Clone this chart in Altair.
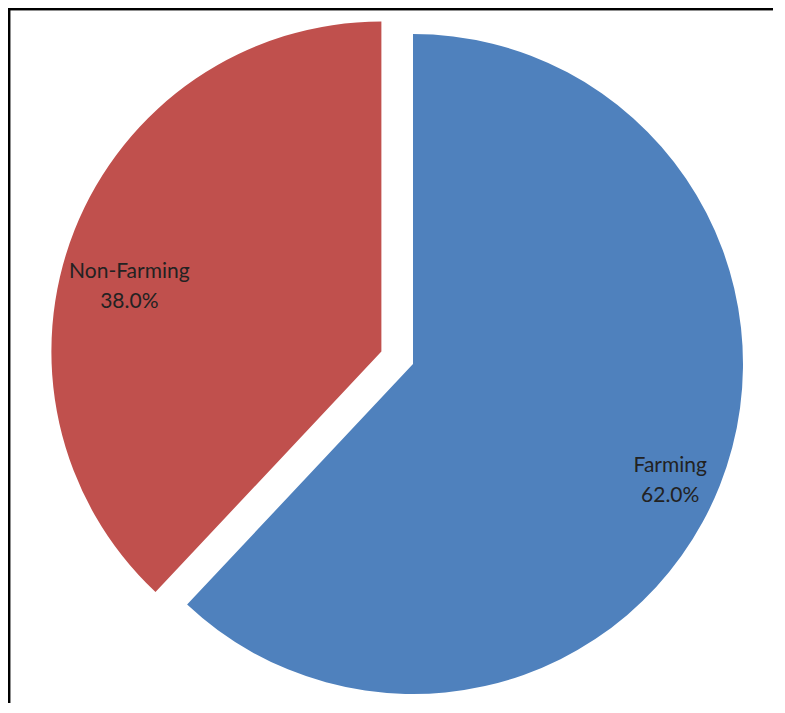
import math
import altair as alt
import pandas as pd

# ---- data ----
categories = ["Farming", "Non-Farming"]
shares = [62.0, 38.0]
colors = ["#4F81BD", "#C0504D"]
exploded = [False, True]

total = sum(shares)
rows = []
start = 0.0
for c, v in zip(categories, shares):
    end = start + v
    rows.append(
        dict(
            cat=c,
            value=v,
            t0=start / total * 2 * math.pi,
            t1=end / total * 2 * math.pi,
            mid=(start + v / 2) / total * 2 * math.pi,
            label=f"{c}\n{v:.1f}%",
        )
    )
    start = end
df = pd.DataFrame(rows)

# ---- layout ----
W, H = 765, 695
R = 330
CX, CY = 405, 356
EXPLODE = 34
label_radius = {"Farming": 282, "Non-Farming": 270}
label_shift = {"Farming": (-5, -2), "Non-Farming": (-1, 20)}

color_scale = alt.Scale(domain=categories, range=colors)

layers = []
for i, c in enumerate(categories):
    mid = df.loc[i, "mid"]
    off = EXPLODE if exploded[i] else 0
    cx = CX + off * math.sin(mid)
    cy = CY - off * math.cos(mid)
    base = alt.Chart(df).transform_filter(alt.datum.cat == c)
    arc = base.mark_arc(outerRadius=R, innerRadius=0).encode(
        x=alt.value(cx),
        y=alt.value(cy),
        theta=alt.Theta("t0:Q", scale=None),
        theta2=alt.Theta2("t1:Q"),
        color=alt.Color("cat:N", scale=color_scale, legend=None),
    )
    dx, dy = label_shift[c]
    txt = base.mark_text(
        radius=label_radius[c],
        dx=dx,
        dy=dy,
        font="Lato",
        fontSize=21,
        color="#222222",
        lineBreak="\n",
        lineHeight=30,
        align="center",
        baseline="middle",
    ).encode(
        x=alt.value(cx),
        y=alt.value(cy),
        theta=alt.Theta("mid:Q", scale=None),
        text="label:N",
    )
    layers += [arc, txt]

# frame lines (top and left edges visible in the reference)
frame_top = alt.Chart(df).mark_rule(color="black", strokeWidth=2.5).encode(
    x=alt.value(0), x2=alt.value(W), y=alt.value(1)
)
frame_left = alt.Chart(df).mark_rule(color="black", strokeWidth=2.5).encode(
    x=alt.value(1), y=alt.value(0), y2=alt.value(H)
)

chart = (
    alt.layer(*layers, frame_top, frame_left)
    .properties(width=W, height=H, padding=0, autosize=alt.AutoSizeParams(type="none"))
    .configure_view(stroke=None)
    .configure(background="white")
)

chart.save("out.html", embed_options={"renderer": "svg", "actions": False})
